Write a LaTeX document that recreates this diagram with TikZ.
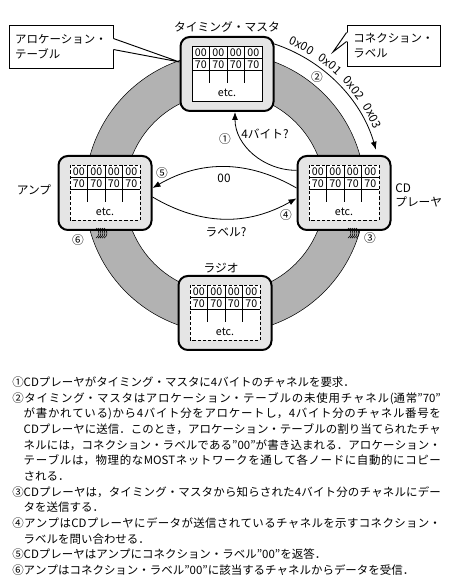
\documentclass[tikz,border=0pt]{standalone}
\usepackage{fontspec}
\setmainfont{Noto Sans CJK JP}
\usetikzlibrary{arrows.meta,decorations.text}
\definecolor{ringgray}{gray}{0.70}
\definecolor{stationgray}{gray}{0.90}
\tikzset{
  station/.style={draw, fill=stationgray, rounded corners=7pt, line width=1.5pt,
    minimum width=69.75pt, minimum height=55.5pt, inner sep=0pt},
  callbox/.style={draw, fill=white, line width=0.7pt, align=left, inner sep=0pt,
    font=\fontsize{8.6pt}{11pt}\selectfont},
  lbl/.style={font=\fontsize{8.8pt}{10pt}\selectfont, inner sep=0pt, align=left},
  cell/.style={font=\fontsize{8pt}{9pt}\selectfont, inner sep=0pt},
  solidframe/.style={line width=0.6pt},
  dashframe/.style={line width=0.6pt, dash pattern=on 2.4pt off 1.5pt},
  wave/.style={line width=0.45pt},
  ->/.style={-{Latex[length=6pt,width=4.5pt]}, line width=0.6pt}
}
% channel table inside a station: #1 = station node, #2 = frame style
\newcommand{\chtable}[2]{%
  \begin{scope}[shift={(#1.center)}]
    \draw[#2, fill=white] (-35,-27.5) rectangle (35,27.5);
    \draw[line width=0.5pt] (-35,15.5) -- (35,15.5);
    \draw[line width=0.5pt] (-35,3.5) -- (35,3.5);
    \draw[line width=0.5pt] (-17.5,27.5) -- (-17.5,-9.5);
    \draw[line width=0.5pt] (0,27.5) -- (0,-9.5);
    \draw[line width=0.5pt] (17.5,27.5) -- (17.5,-9.5);
    \node[cell] (#1-a1) at (-26.25,21.5) {00};
    \node[cell] (#1-a2) at (-8.75,21.5) {00};
    \node[cell] (#1-a3) at (8.75,21.5) {00};
    \node[cell] (#1-a4) at (26.25,21.5) {00};
    \node[cell] (#1-b1) at (-26.25,9.5) {70};
    \node[cell] (#1-b2) at (-8.75,9.5) {70};
    \node[cell] (#1-b3) at (8.75,9.5) {70};
    \node[cell] (#1-b4) at (26.25,9.5) {70};
    \node[cell] (#1-etc) at (0,-18.5) {etc.};
  \end{scope}}
% signal marks on the ring
\newcommand{\waves}[1]{%
  \draw[wave] (#1) ++(-4,5) arc[start angle=60, end angle=-60, radius=5.8]
    ++(2,10) arc[start angle=60, end angle=-60, radius=5.8]
    ++(2,10) arc[start angle=60, end angle=-60, radius=5.8]
    ++(2,10) arc[start angle=60, end angle=-60, radius=5.8]
    ++(2,10) arc[start angle=60, end angle=-60, radius=5.8];}
% one numbered note, lines justified
\newcommand{\note}{\hangindent=1em\hangafter=1 }

\begin{document}
\begin{tikzpicture}[x=0.75pt,y=0.75pt]
\useasboundingbox (0,0) rectangle (450,581);

% Ring (MOST network)
\coordinate (ring) at (225,388);
\path[fill=ringgray, draw=black, line width=0.4pt, even odd rule]
  (ring) circle[radius=140] (ring) circle[radius=100];

% Callouts
\node[callbox, minimum width=78pt, minimum height=32.25pt] (alloc) at (61,534.5)
  {アロケーション・\\テーブル};
\node[callbox, minimum width=69.75pt, minimum height=30.75pt] (conn) at (393.5,535.5)
  {コネクション・\\ラベル};

% Stations
\node[station] (master) at (227,507) {};
\node[station] (amp) at (105,388) {};
\node[station] (cd) at (344,388) {};
\node[station] (radio) at (225,268) {};

\chtable{master}{solidframe}
\chtable{amp}{dashframe}
\chtable{cd}{dashframe}
\chtable{radio}{dashframe}

% Station names
\node[lbl] (masterName) at (227,554) {タイミング・マスタ};
\node[lbl] (ampName) at (34,391) {アンプ};
\node[lbl, anchor=west] (cdName) at (395,385.5) {CD\\プレーヤ};
\node[lbl] (radioName) at (221,313) {ラジオ};

% Callout pointers
\coordinate (allocTip) at ([yshift=9pt]master.west);
\coordinate (connTip) at (333,529);
\fill[white] ([xshift=-1pt,yshift=-10.5pt]alloc.north east) -- ([yshift=-10.5pt]alloc.north east)
  -- (allocTip) -- ([yshift=-18.75pt]alloc.north east) -- ([xshift=-1pt,yshift=-18.75pt]alloc.north east) -- cycle;
\draw[line width=0.7pt] ([yshift=-10.5pt]alloc.north east) -- (allocTip) -- ([yshift=-18.75pt]alloc.north east);
\fill[white] ([xshift=1pt,yshift=-6pt]conn.north west) -- ([yshift=-6pt]conn.north west)
  -- (connTip) -- ([yshift=-12.75pt]conn.north west) -- ([xshift=1pt,yshift=-12.75pt]conn.north west) -- cycle;
\draw[line width=0.7pt] ([yshift=-6pt]conn.north west) -- (connTip) -- ([yshift=-12.75pt]conn.north west);

% (1) request 4 bytes
\draw[->] ([yshift=17pt]cd.west) to[out=180,in=-90] ([xshift=6pt]master.south);
\node[lbl] (n1) at (225,442) {①};
\node[lbl] (q1) at (265,447) {4バイト?};

% (2) channel numbers along the arc
\draw[->] ([shift={(73:157)}]ring) arc[start angle=73, end angle=16, radius=157];
\path[decorate, decoration={text along path, text align=center, raise=4pt,
    text={|\fontsize{8.8pt}{10pt}\selectfont|0x00{\kern5pt}0x01{\kern5pt}0x02{\kern5pt}0x03}}]
  ([shift={(75:157)}]ring) arc[start angle=75, end angle=15, radius=157];
\node[lbl] (n2) at (317,504) {②};

% (4) ask label, (5) reply 00
\draw[->] ([yshift=3.75pt]cd.west) to[bend right=30] ([yshift=3.75pt]amp.east);
\draw[->] ([yshift=-3pt]amp.east) to[bend right=30] ([yshift=-4pt]cd.west);
\node[lbl] (r5) at (224,403) {00};
\node[lbl] (n5) at (162,408) {⑤};
\node[lbl] (q4) at (226,349) {ラベル?};
\node[lbl] (n4) at (286,366) {④};

% (3) send data, (6) receive data
\waves{[xshift=6pt,yshift=-1.5pt]cd.south}
\waves{[xshift=-3.75pt,yshift=-1.5pt]amp.south}
\node[lbl] (n3) at (370,343) {③};
\node[lbl] (n6) at (78,341) {⑥};

% Notes
\node[anchor=north west, inner sep=0pt, font=\fontsize{8.6pt}{11.75pt}\selectfont] (notes) at (12,204.5)
{\parbox{321.5pt}{\parindent=0pt\baselineskip=11.75pt\lineskiplimit=-20pt
\XeTeXlinebreaklocale "ja"\XeTeXlinebreakskip=0pt plus 1.5pt minus 0.3pt%
\note ①CDプレーヤがタイミング・マスタに4バイトのチャネルを要求．\par
\note ②タイミング・マスタはアロケーション・テーブルの未使用チャネル(通常"70"\linebreak
が書かれている)から4バイト分をアロケートし，4バイト分のチャネル番号を\linebreak
CDプレーヤに送信．このとき，アロケーション・テーブルの割り当てられたチャ\linebreak
ネルには，コネクション・ラベルである"00"が書き込まれる．アロケーション・\linebreak
テーブルは，物理的なMOSTネットワークを通して各ノードに自動的にコピー\linebreak
される．\par
\note ③CDプレーヤは，タイミング・マスタから知らされた4バイト分のチャネルにデー\linebreak
タを送信する．\par
\note ④アンプはCDプレーヤにデータが送信されているチャネルを示すコネクション・\linebreak
ラベルを問い合わせる．\par
\note ⑤CDプレーヤはアンプにコネクション・ラベル"00"を返答．\par
\note ⑥アンプはコネクション・ラベル"00"に該当するチャネルからデータを受信．\par}};

\end{tikzpicture}
\end{document}
